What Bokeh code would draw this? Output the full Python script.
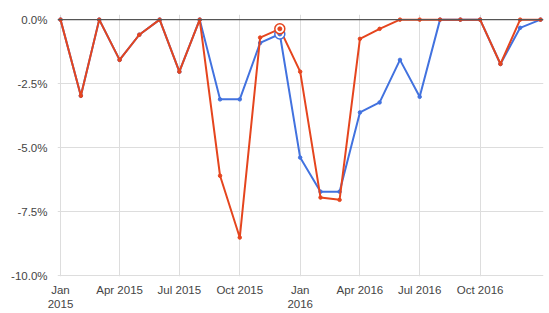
import pandas as pd
from bokeh.plotting import figure
from bokeh.models import Range1d, FixedTicker, Span, ColumnDataSource
from bokeh.embed import file_html
from bokeh.resources import INLINE

months = ["2015-01", "2015-02", "2015-03", "2015-04", "2015-05", "2015-06", "2015-07",
          "2015-08", "2015-09", "2015-10", "2015-11", "2015-12", "2016-01", "2016-02",
          "2016-03", "2016-04", "2016-05", "2016-06", "2016-07", "2016-08", "2016-09",
          "2016-10", "2016-11", "2016-12", "2017-01"]
blue_vals = [0.0, -2.97, 0.0, -1.57, -0.59, 0.0, -2.03, 0.0, -3.11, -3.11, -0.91, -0.56,
             -5.38, -6.71, -6.71, -3.62, -3.23, -1.57, -3.01, 0.0, 0.0, 0.0, -1.73, -0.32, 0.0]
red_vals = [0.0, -2.97, 0.0, -1.57, -0.59, 0.0, -2.03, 0.0, -6.09, -8.50, -0.70, -0.36,
            -2.03, -6.94, -7.03, -0.75, -0.36, 0.0, 0.0, 0.0, 0.0, 0.0, -1.73, 0.0, 0.0]
highlight_month = "2015-12"
tick_months = ["2015-01", "2015-04", "2015-07", "2015-10", "2016-01", "2016-04",
               "2016-07", "2016-10"]
tick_labels = ["Jan\n2015", "Apr 2015", "Jul 2015", "Oct 2015", "Jan\n2016",
               "Apr 2016", "Jul 2016", "Oct 2016"]
y_ticks = [0.0, -2.5, -5.0, -7.5, -10.0]
y_labels = ["0.0%", "-2.5%", "-5.0%", "-7.5%", "-10.0%"]

BLUE = "#4272df"
RED = "#e5451e"

dates = pd.to_datetime(months)
src = ColumnDataSource(dict(x=dates, b=list(blue_vals), r=list(red_vals)))

t0 = pd.Timestamp(months[0]).value / 1e6
t1 = pd.Timestamp(months[-1]).value / 1e6
span_ms = t1 - t0
pad = span_ms * (3.0 / 480.0)

p = figure(width=549, height=313, output_backend="svg", toolbar_location=None,
           x_axis_type="datetime",
           x_range=Range1d(t0 - pad, t1 + pad),
           y_range=Range1d(-10.02, 0.2),
           min_border_left=57, min_border_right=6, min_border_top=14, min_border_bottom=37)
p.outline_line_color = None
p.background_fill_color = "white"
p.border_fill_color = "white"

tick_ms = [pd.Timestamp(m).value / 1e6 for m in tick_months]
p.xaxis.ticker = FixedTicker(ticks=tick_ms)
p.xaxis.major_label_overrides = {t: l for t, l in zip(tick_ms, tick_labels)}
p.yaxis.ticker = FixedTicker(ticks=y_ticks)
p.yaxis.major_label_overrides = {t: l for t, l in zip(y_ticks, y_labels)}

for ax in (p.xaxis, p.yaxis):
    ax.axis_line_color = None
    ax.major_tick_line_color = None
    ax.minor_tick_line_color = None
    ax.major_tick_out = 0
    ax.major_tick_in = 0
    ax.major_label_text_font = "Liberation Sans"
    ax.major_label_text_font_size = "11.5px"
    ax.major_label_text_color = "#444444"
p.yaxis.major_label_standoff = 10
p.xaxis.major_label_standoff = 7

p.grid.grid_line_color = "#dddddd"
p.grid.grid_line_width = 1

zero = Span(location=0, dimension="width", line_color="#555555", line_width=1.3)
p.add_layout(zero)

p.line("x", "b", source=src, line_color=BLUE, line_width=2)
p.scatter("x", "b", source=src, size=3.5, fill_color=BLUE, line_color=BLUE)
p.line("x", "r", source=src, line_color=RED, line_width=2)
p.scatter("x", "r", source=src, size=3.5, fill_color=RED, line_color=RED)

hi = months.index(highlight_month)
hd = [dates[hi]]
p.scatter(hd, [blue_vals[hi]], size=10, fill_color="white", line_color=BLUE, line_width=1.5)
p.scatter(hd, [blue_vals[hi]], size=4, fill_color=BLUE, line_color=BLUE)
p.scatter(hd, [red_vals[hi]], size=10, fill_color="white", line_color=RED, line_width=1.5)
p.scatter(hd, [red_vals[hi]], size=4, fill_color=RED, line_color=RED)

open("out.html", "w").write(file_html(p, INLINE))
